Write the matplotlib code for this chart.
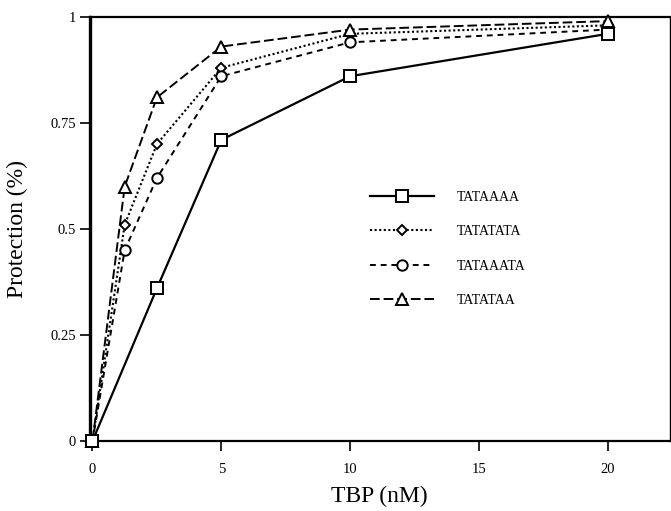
import matplotlib
matplotlib.use("Agg")
import matplotlib.pyplot as plt

plt.rcParams['font.family'] = ['Liberation Serif', 'DejaVu Serif']

# TBP concentrations (nM)
tbp_square = [0, 2.5, 5, 10, 20]
tbp = [0, 1.25, 2.5, 5, 10, 20]

# protection values
tataaaa = [0, 0.36, 0.71, 0.86, 0.96]
tatatata = [0, 0.51, 0.70, 0.88, 0.96, 0.98]
tataaata = [0, 0.45, 0.62, 0.86, 0.94, 0.97]
tatataa = [0, 0.60, 0.81, 0.93, 0.97, 0.99]

x_ticks = [0, 5, 10, 15, 20]
y_ticks = [0, 0.25, 0.5, 0.75, 1]
y_ticklabels = ['0', '0.25', '0.5', '0.75', '1']

fig = plt.figure(figsize=(6.71, 5.11), dpi=100)
ax = fig.add_axes([0.134, 0.137, 0.864, 0.830])

mk = dict(color='black', markerfacecolor='white', markeredgecolor='black',
          markeredgewidth=1.4, clip_on=False)
ax.plot(tbp_square, tataaaa, linestyle='-', linewidth=1.6, marker='s',
        markersize=8, label='TATAAAA', zorder=5, **mk)
ax.plot(tbp, tatatata, linestyle=(0, (1, 1.2)), linewidth=1.5, marker='D',
        markersize=5.5, label='TATATATA', zorder=3, **mk)
ax.plot(tbp, tataaata, linestyle=(0, (3, 2.5)), linewidth=1.4, marker='o',
        markersize=7.5, label='TATAAATA', zorder=3, **mk)
ax.plot(tbp, tatataa, linestyle=(0, (5, 2)), linewidth=1.4, marker='^',
        markersize=8, label='TATATAA', zorder=4, **mk)

ax.set_xlim(-0.1, 22.4)
ax.set_ylim(0, 1)
ax.set_xticks(x_ticks)
ax.set_yticks(y_ticks)
ax.set_yticklabels(y_ticklabels)
ax.tick_params(direction='out', length=7, width=1.2, labelsize=10.5)
ax.tick_params(axis='x', pad=9)
ax.tick_params(axis='y', pad=3)

ax.spines['left'].set_linewidth(2.4)
ax.spines['bottom'].set_linewidth(1.6)
ax.spines['top'].set_linewidth(1.6)
ax.spines['right'].set_linewidth(1.0)

ax.set_xlabel('TBP (nM)', fontsize=17)
ax.set_ylabel('Protection (%)', fontsize=17)
ax.xaxis.set_label_coords(0.5, -0.105)
ax.yaxis.set_label_coords(-0.107, 0.5)

leg = ax.legend(loc='upper left', bbox_to_anchor=(0.462, 0.62), frameon=False,
                fontsize=10, numpoints=1, handlelength=4.6, handletextpad=1.6,
                labelspacing=1.55)

fig.savefig('out.png', dpi=100)
